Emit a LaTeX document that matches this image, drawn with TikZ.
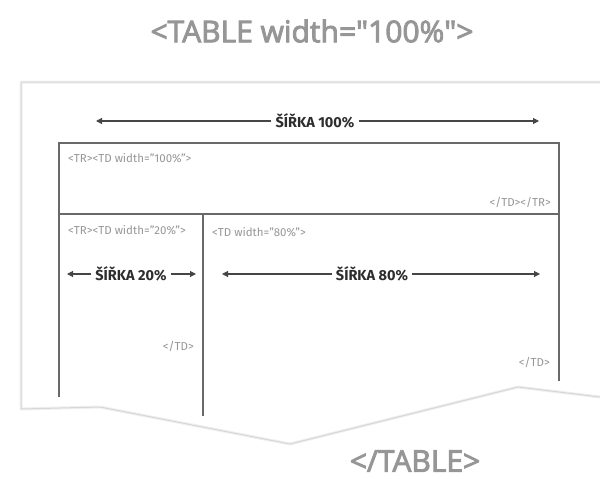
\documentclass[tikz,border=0pt]{standalone}
\usepackage{fontspec}
\setmainfont{Fira Sans}
\newfontfamily\headfont{Open Sans}[FakeBold=3]
\usetikzlibrary{arrows.meta}
\definecolor{titlegray}{RGB}{150,150,150}
\definecolor{tabline}{RGB}{105,105,105}
\definecolor{smallgray}{RGB}{150,150,150}
\definecolor{lblcol}{RGB}{45,45,45}
\definecolor{arrcol}{RGB}{70,70,70}
\definecolor{sheetline}{RGB}{215,215,215}
\definecolor{sheetshadow}{RGB}{240,240,240}
\begin{document}
\begin{tikzpicture}[x=1pt,y=-1pt,
  titletext/.style={text=titlegray,font=\headfont\fontsize{30}{34}\selectfont,inner sep=0pt},
  smalltext/.style={text=smallgray,font=\fontsize{11.5}{13}\selectfont,inner sep=0pt},
  lbl/.style={text=lblcol,font=\bfseries\fontsize{14.5}{16}\selectfont,inner sep=4pt,fill=white},
  dimarrow/.style={draw=arrcol,line width=1.1pt,-{Triangle[length=6pt,width=6pt]}},
  tab/.style={draw=tabline,line width=2pt},
  sheetshade/.style={draw=sheetshadow,line width=3pt,line join=round},
  sheet/.style={draw=sheetline,line width=1pt,line join=round}]
\useasboundingbox (0,0) rectangle (600,479);
% sheet of paper
\draw[sheetshade] (600,82) -- (21,82) -- (21,409) -- (100,407) -- (290,444) -- (518,387) -- (600,397);
\draw[sheet] (600,82) -- (21,82) -- (21,409) -- (100,407) -- (290,444) -- (518,387) -- (600,397);
% titles
\node[titletext] (title) at (312,31) {<TABLE width="100\%">};
\node[titletext] (endtitle) at (415,461) {</TABLE>};
% table frame
\coordinate (tl) at (59,143);
\coordinate (tr) at (559,143);
\coordinate (ml) at (59,214);
\coordinate (mr) at (559,214);
\coordinate (mc) at (203,214);
\coordinate (bl) at (59,397);
\coordinate (bc) at (203,416);
\coordinate (br) at (559,381);
\draw[tab] (bl) -- (tl) -- (tr) -- (br);
\draw[tab] (ml) -- (mr);
\draw[tab] (mc) -- (bc);
% small tag texts
\node[smalltext,anchor=west] (tr1) at (68,158) {<TR><TD width="100\%">};
\node[smalltext,anchor=east] (tr1e) at (551,202) {</TD></TR>};
\node[smalltext,anchor=west] (tr2) at (68,230) {<TR><TD width="20\%">};
\node[smalltext,anchor=west] (td80) at (212,232) {<TD width="80\%">};
\node[smalltext,anchor=east] (td20e) at (194,346) {</TD>};
\node[smalltext,anchor=east] (td80e) at (550,362) {</TD>};
% width labels with arrows
\node[lbl] (w100) at (315,121) {ŠÍŘKA 100\%};
\coordinate (w100l) at (96,121);
\coordinate (w100r) at (539,121);
\draw[dimarrow] (w100.west) -- (w100l);
\draw[dimarrow] (w100.east) -- (w100r);
\node[lbl] (w20) at (131,274) {ŠÍŘKA 20\%};
\coordinate (w20l) at (67,274);
\coordinate (w20r) at (196,274);
\draw[dimarrow] (w20.west) -- (w20l);
\draw[dimarrow] (w20.east) -- (w20r);
\node[lbl] (w80) at (372,274) {ŠÍŘKA 80\%};
\coordinate (w80l) at (222,274);
\coordinate (w80r) at (540,274);
\draw[dimarrow] (w80.west) -- (w80l);
\draw[dimarrow] (w80.east) -- (w80r);
\end{tikzpicture}
\end{document}
